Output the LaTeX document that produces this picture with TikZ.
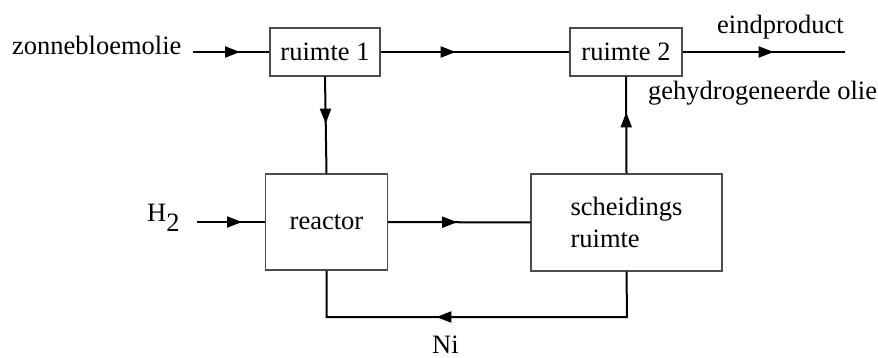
\documentclass[tikz,border=0pt]{standalone}
\usepackage{fontspec}
\setmainfont{Liberation Serif}
\usetikzlibrary{arrows.meta,decorations.markings}
\begin{document}
\begin{tikzpicture}[x=1pt,y=-1pt,
  font=\fontsize{26.5}{32}\selectfont,
  blok/.style={draw=black!70,line width=1.3pt,inner sep=0pt,fill=white},
  lbl/.style={inner sep=0pt,anchor=base west},
  flow/.style={line width=2pt,black},
  midarrow/.style={postaction={decorate},decoration={markings,
     mark=at position #1 with {\arrow{Triangle[length=15pt,width=11pt]}}}}]
\useasboundingbox (0,0) rectangle (878,358);
% boxes
\node[blok,minimum width=110pt,minimum height=48pt] (r1) at (325,52) {ruimte 1};
\node[blok,minimum width=112pt,minimum height=48pt] (r2) at (626,52) {ruimte 2};
\node[blok,minimum width=122pt,minimum height=96pt] (re) at (326.5,222) {reactor};
\node[blok,minimum width=191pt,minimum height=97pt,align=left] (sc) at (626.5,222.5) {scheidings\\ruimte};
% labels
\node[lbl] (zon) at (12,55) {zonnebloemolie};
\node[lbl] (h2) at (147,222) {H\raisebox{-10pt}{2}};
\node[lbl] (eind) at (717,34) {eindproduct};
\node[lbl] (geh) at (648,100) {gehydrogeneerde olie};
\node[lbl] (ni) at (432,353) {Ni};
% free ends
\coordinate (zin) at (193,52);
\coordinate (hin) at (197,222);
\coordinate (uit) at (845,52);
\coordinate (lr) at (627,317);
\coordinate (ll) at (326.5,317);
% connectors
\draw[flow,midarrow=47pt] (zin) -- (r1.west);
\draw[flow,midarrow=75pt] (r1.east) -- (r2.west);
\draw[flow,midarrow=91pt] (r2.east) -- (uit);
\draw[flow,midarrow=47pt] (r1.south) -- (re.north);
\draw[flow,midarrow=45pt] (hin) -- (re.west);
\draw[flow,midarrow=69pt] (re.east) -- (sc.west);
\draw[flow,midarrow=61pt] (sc.north) -- (r2.south);
\draw[flow,midarrow=236pt] (sc.south) -- (lr) -- (ll) -- (re.south);
\end{tikzpicture}
\end{document}
